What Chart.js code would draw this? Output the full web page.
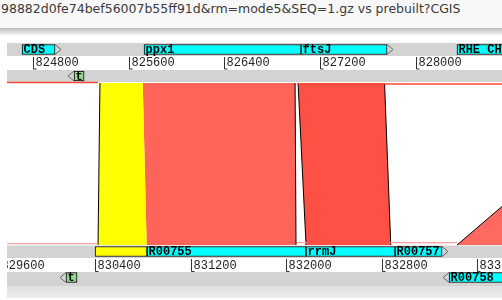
<!DOCTYPE html>
<html>
<head>
<meta charset="utf-8">
<script src="https://cdn.jsdelivr.net/npm/chart.js@4.4.0/dist/chart.umd.min.js"></script>
<style>
html, body { margin: 0; padding: 0; background: #fff; }
#titlebar { position: absolute; left: 0; top: 0; width: 502px; height: 28px; background: #f8f8f8; overflow: hidden; white-space: nowrap;
  font: 12.5px "DejaVu Sans", sans-serif; color: #3a3a3a; line-height: 17px; padding-left: 1px; box-sizing: border-box; }
#shade { position: absolute; left: 0; top: 28px; width: 502px; height: 8px; background: linear-gradient(#bcbcbc, #ffffff); }
#wrap { position: absolute; left: 0; top: 36px; width: 502px; height: 264px; }
</style>
</head>
<body>
<div id="titlebar">98882d0fe74bef56007b55ff91d&amp;rm=mode5&amp;SEQ=1.gz vs prebuilt?CGIS</div>
<div id="shade"></div>
<div id="wrap"><canvas id="chart"></canvas></div>
<script>
// visible windows (bp) of the two sequences
const topView = [824580, 828723];
const bottomView = [829663, 833806];
const topRulerTicks = [824800, 825600, 826400, 827200, 828000];
const bottomRulerTicks = [829600, 830400, 831200, 832000, 832800, 833600];

// features, top sequence
const topFwdNames = ['CDS', 'ppx1', 'ftsJ', 'RHE CH'];
const topFwdStart = [824706, 825727, 827041, 828346];
const topFwdEnd = [824982, 827041, 827761, 829400];
const topRevNames = ['t'];
const topRevStart = [825141];
const topRevEnd = [825225];

// features, bottom sequence
const bottomFwdNames = ['', 'R00755', 'rrmJ', 'R00757'];
const bottomFwdStart = [830400, 830835, 832166, 832911];
const bottomFwdEnd = [830835, 832166, 832911, 833304];
const bottomRevNames = ['t', 'R00758'];
const bottomRevStart = [830157, 833363];
const bottomRevEnd = [830249, 834300];

// matches between the sequences
const matchTopStart = [825358, 825716, 827016, 829928];
const matchTopEnd = [825716, 826991, 827740, 830500];
const matchBottomStart = [830425, 830832, 832166, 833430];
const matchBottomEnd = [830832, 832082, 832875, 834000];

// thin matches seen at the edges
const topHairStart = [824580, 827008];
const topHairEnd = [825342, 828723];
const bottomHairStart = [829663, 832090, 832869];
const bottomHairEnd = [830425, 832174, 833430];

// layout (page y)
const Y_TOP_FWD = 49.5, Y_TOP_REV = 76, Y_BOT_FWD = 251.5, Y_BOT_REV = 277.5;
const Y_MATCH_TOP = 83, Y_MATCH_BOT = 245;
const matchColors = ['#ffff00', '#ff645a', '#ff5046', '#ff6a60'];
const matchEdgeLeft = [true, false, true, true];
const matchEdgeRight = [false, true, true, false];

const toTopFrame = bp => bp - bottomView[0] + topView[0];

function featureSet(names, starts, ends, axis, y, strand, colors) {
    return {
        type: 'bar',
        indexAxis: 'y',
        xAxisID: axis,
        yAxisID: 'y',
        featureNames: names,
        strand: strand,
        data: names.map((n, i) => ({ x: [starts[i], ends[i]], y: y })),
        backgroundColor: colors || names.map(n => n === 't' ? '#8fdc8f' : '#00ffff'),
        borderColor: '#000',
        borderWidth: 1,
        borderSkipped: false,
        grouped: false,
        barThickness: 10,
        order: 0
    };
}

const datasets = [
    featureSet(topFwdNames, topFwdStart, topFwdEnd, 'xTop', Y_TOP_FWD, 1),
    featureSet(topRevNames, topRevStart, topRevEnd, 'xTop', Y_TOP_REV, -1),
    featureSet(bottomFwdNames, bottomFwdStart, bottomFwdEnd, 'xBot', Y_BOT_FWD, 1,
        bottomFwdNames.map(n => n === '' ? '#ffff00' : '#00ffff')),
    featureSet(bottomRevNames, bottomRevStart, bottomRevEnd, 'xBot', Y_BOT_REV, -1)
];

matchTopStart.forEach((ts, i) => {
    const te = matchTopEnd[i];
    const bs = toTopFrame(matchBottomStart[i]);
    const be = toTopFrame(matchBottomEnd[i]);
    datasets.push({
        type: 'line', xAxisID: 'xTop', yAxisID: 'y',
        data: [{ x: ts, y: Y_MATCH_TOP }, { x: te, y: Y_MATCH_TOP }, { x: be, y: Y_MATCH_BOT },
               { x: bs, y: Y_MATCH_BOT }, { x: ts, y: Y_MATCH_TOP }],
        fill: 'shape',
        backgroundColor: matchColors[i],
        borderColor: 'rgba(0,0,0,0)',
        pointRadius: 0, tension: 0, order: 3
    });
    if (matchEdgeLeft[i]) datasets.push({
        type: 'line', xAxisID: 'xTop', yAxisID: 'y',
        data: [{ x: ts, y: Y_MATCH_TOP }, { x: bs, y: Y_MATCH_BOT }],
        borderColor: '#000', borderWidth: 1, pointRadius: 0, fill: false, order: 2
    });
    if (matchEdgeRight[i]) datasets.push({
        type: 'line', xAxisID: 'xTop', yAxisID: 'y',
        data: [{ x: te, y: Y_MATCH_TOP }, { x: be, y: Y_MATCH_BOT }],
        borderColor: '#000', borderWidth: 1, pointRadius: 0, fill: false, order: 2
    });
});

topHairStart.forEach((s, i) => datasets.push({
    type: 'line', xAxisID: 'xTop', yAxisID: 'y',
    data: [{ x: s, y: i === 0 ? 82.6 : 84 }, { x: topHairEnd[i], y: i === 0 ? 82.6 : 84 }],
    borderColor: 'rgb(255,70,55)', borderWidth: 1.5, pointRadius: 0, fill: false, order: 1
}));
bottomHairStart.forEach((s, i) => datasets.push({
    type: 'line', xAxisID: 'xBot', yAxisID: 'y',
    data: [{ x: s, y: i === 0 ? 243.6 : 242.6 }, { x: bottomHairEnd[i], y: i === 0 ? 243.6 : 242.6 }],
    borderColor: 'rgb(255,160,160)', borderWidth: 1.3, pointRadius: 0, fill: false, order: 1
}));

function drawRuler(ctx, scale, ys, ticks, y0, y1, base) {
    ctx.strokeStyle = '#333';
    ctx.fillStyle = '#222';
    ctx.lineWidth = 1;
    ctx.font = '12px "Liberation Mono", monospace';
    ctx.textBaseline = 'alphabetic';
    ticks.forEach(t => {
        const x = Math.round(scale.getPixelForValue(t)) + 0.5;
        ctx.beginPath();
        ctx.moveTo(x, ys.getPixelForValue(y0));
        ctx.lineTo(x, ys.getPixelForValue(y1));
        ctx.lineTo(x + 3, ys.getPixelForValue(y1));
        ctx.stroke();
        ctx.fillText(String(t), x + 2, ys.getPixelForValue(base));
    });
}

const tracks = {
    id: 'tracks',
    beforeDatasetsDraw(chart) {
        const { ctx, chartArea, scales } = chart;
        const y = scales.y;
        const w = chartArea.right - chartArea.left;
        ctx.save();
        ctx.beginPath();
        ctx.rect(chartArea.left, chartArea.top, w, chartArea.bottom - chartArea.top);
        ctx.clip();
        ctx.fillStyle = '#d3d3d3';
        [[43, 56], [70, 82], [245.5, 258], [272, 286]].forEach(([a, b]) => {
            ctx.fillRect(chartArea.left, y.getPixelForValue(a), w, y.getPixelForValue(b) - y.getPixelForValue(a));
        });
        const g = ctx.createLinearGradient(0, y.getPixelForValue(286), 0, y.getPixelForValue(298));
        g.addColorStop(0, '#e0e0e0');
        g.addColorStop(1, '#ececec');
        ctx.fillStyle = g;
        ctx.fillRect(chartArea.left, y.getPixelForValue(286), w, y.getPixelForValue(298) - y.getPixelForValue(286));
        drawRuler(ctx, scales.xTop, y, topRulerTicks, 57, 69, 66);
        drawRuler(ctx, scales.xBot, y, bottomRulerTicks, 259, 271.5, 268.5);
        ctx.restore();
    }
};

const featureLabels = {
    id: 'featureLabels',
    afterDatasetsDraw(chart) {
        const { ctx, chartArea } = chart;
        ctx.save();
        ctx.beginPath();
        ctx.rect(chartArea.left, chartArea.top, chartArea.right - chartArea.left, chartArea.bottom - chartArea.top);
        ctx.clip();
        ctx.font = 'bold 12px "Liberation Mono", monospace';
        ctx.textBaseline = 'middle';
        chart.data.datasets.forEach((ds, di) => {
            if (!ds.featureNames) return;
            const bars = chart.getDatasetMeta(di).data.map(el => {
                const p = el.getProps(['x', 'base', 'y', 'height'], true);
                return { left: Math.min(p.x, p.base), right: Math.max(p.x, p.base), y: p.y, h: p.height };
            });
            bars.forEach((b, i) => {
                const tip = ds.strand > 0 ? b.right + 6 : b.left - 6;
                const hidden = bars.some((o, j) => j !== i && tip > o.left && tip < o.right);
                if (!hidden) {
                    const edge = ds.strand > 0 ? b.right : b.left;
                    ctx.strokeStyle = '#666';
                    ctx.lineWidth = 1;
                    ctx.beginPath();
                    ctx.moveTo(edge, b.y - b.h / 2);
                    ctx.lineTo(tip, b.y);
                    ctx.lineTo(edge, b.y + b.h / 2);
                    ctx.stroke();
                }
                ctx.fillStyle = '#000';
                ctx.fillText(ds.featureNames[i], b.left + 1.5, b.y + 0.5);
            });
        });
        ctx.restore();
    }
};

new Chart(document.getElementById('chart').getContext('2d'), {
    type: 'line',
    data: { datasets: datasets },
    options: {
        responsive: true,
        maintainAspectRatio: false,
        animation: false,
        events: [],
        layout: { padding: { left: 7, right: 0, top: 0, bottom: 0 } },
        plugins: { legend: { display: false }, tooltip: { enabled: false } },
        scales: {
            xTop: { type: 'linear', min: topView[0], max: topView[1], offset: false, display: false },
            xBot: { type: 'linear', min: bottomView[0], max: bottomView[1], offset: false, display: false },
            y: { type: 'linear', min: 36, max: 300, reverse: true, offset: false, display: false }
        }
    },
    plugins: [tracks, featureLabels]
});
</script>
</body>
</html>
